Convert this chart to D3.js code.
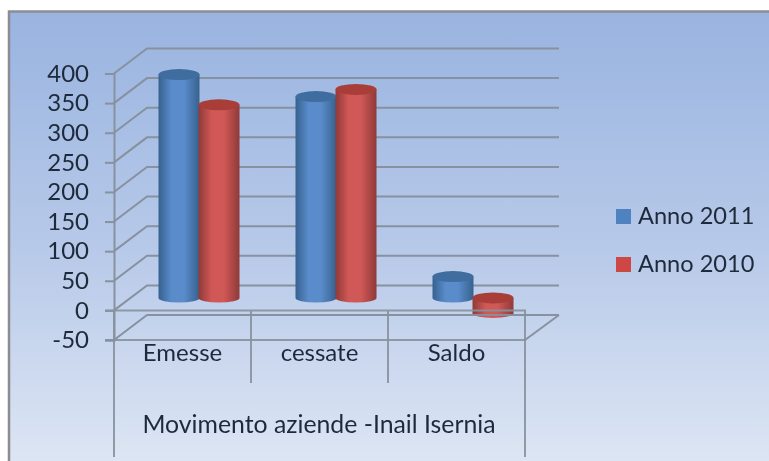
<!DOCTYPE html>
<html><head><meta charset="utf-8">
<script src="https://cdn.jsdelivr.net/npm/d3@7/dist/d3.min.js"></script>
<style>html,body{margin:0;padding:0;background:#fff;overflow:hidden}svg{display:block}text{font-family:Lato,"Open Sans",sans-serif;fill:#1f2a3a}</style>
</head><body><svg id="c" width="769" height="461"></svg>
<script>
const categories = ["Emesse", "cessate", "Saldo"];
const seriesNames = ["Anno 2011", "Anno 2010"];
const anno2011 = [377, 340, 36];
const anno2010 = [326, 352, -26];
const yTicks = [-50, 0, 50, 100, 150, 200, 250, 300, 350, 400];
const groupTitle = "Movimento aziende -Inail Isernia";
const seriesValues = [anno2011, anno2010];
const seriesColors = [
  {id:"b", edge:"#36618f", mid:"#5a8ccb", top:"#3f6d9f", legend:"#5083c0"},
  {id:"r", edge:"#8f3a38", mid:"#d05856", top:"#a93d39", legend:"#cd4744"}
];

const svg = d3.select("#c");
const defs = svg.append("defs");
const bg = defs.append("linearGradient").attr("id","bg").attr("x1",0).attr("x2",0).attr("y1",0).attr("y2",1);
[[0,"#99b4e0"],[0.5,"#b7c9e9"],[1,"#e0e8f4"]].forEach(s=>bg.append("stop").attr("offset",s[0]).attr("stop-color",s[1]));
seriesColors.forEach(c=>{
  const g = defs.append("linearGradient").attr("id","cyl"+c.id);
  [[0,c.edge],[0.32,c.mid],[0.62,c.mid],[1,c.edge]].forEach(s=>g.append("stop").attr("offset",s[0]).attr("stop-color",s[1]));
});
defs.append("filter").attr("id","soft").append("feGaussianBlur").attr("stdDeviation",0.5);

svg.append("rect").attr("x",0).attr("y",0).attr("width",769).attr("height",461).attr("fill","#fff");
svg.append("rect").attr("x",9).attr("y",11.5).attr("width",780).attr("height",470)
  .attr("fill","url(#bg)").attr("stroke","#8b8d92").attr("stroke-width",2.5);

const root = svg.append("g").attr("filter","url(#soft)");
const dx = 33, dy = -25;               // depth of the 3-D box
const left = 114, right = 525;
const y = d3.scaleLinear().domain([-50,400]).range([340,73.5]);
const x0 = d3.scaleBand().domain(categories).range([left,right]);
const x1 = d3.scaleBand().domain(d3.range(seriesNames.length)).range([0,80]);
const grid = "#87919f";

// Back wall gridlines and side wall diagonals
const gl = root.append("g").attr("stroke",grid).attr("stroke-width",2).attr("fill","none");
yTicks.forEach(t=>{
  gl.append("path").attr("d",d3.line()([[left,y(t)],[left+dx,y(t)+dy],[right+dx+1,y(t)+dy]]));
});
gl.append("line").attr("x1",right).attr("y1",y(-50)).attr("x2",right+dx+1).attr("y2",y(-50)+dy);

// Y axis
const yAxis = d3.axisLeft(y).tickValues(yTicks).tickSize(9).tickPadding(16).tickFormat(String);
const ya = root.append("g").attr("transform",`translate(${left},0)`).call(yAxis);
ya.select(".domain").attr("stroke",grid).attr("stroke-width",2);
ya.selectAll(".tick line").attr("stroke",grid).attr("stroke-width",2);
ya.selectAll(".tick text").attr("font-size",24).attr("fill","#1f2a3a").style("font-family",'Lato,sans-serif');

// Cylinders
const ry = 5.5, rw = x1.bandwidth()/2;
function cyl(g, cx, v, c){
  const ytop = y(Math.max(v,0))+dy/2, ybot = y(Math.min(v,0))+dy/2;
  const xl = cx-rw-0.5, xr = cx+rw+0.5;
  g.append("path").attr("fill",`url(#cyl${c.id})`)
    .attr("d",`M${xl},${ytop}L${xl},${ybot}A${rw},${ry-1} 0 0 0 ${xr},${ybot}L${xr},${ytop}Z`);
  g.append("ellipse").attr("cx",cx).attr("cy",ytop).attr("rx",rw+0.5).attr("ry",ry).attr("fill",c.top);
}
seriesValues.forEach((vals,si)=>{
  const g = root.append("g").attr("class","series");
  vals.forEach((v,i)=>{
    const cx = x0(categories[i]) + x0.bandwidth()/2 + dx/2 - x1.bandwidth() + x1(si) + x1.bandwidth()/2;
    cyl(g,cx,v,seriesColors[si]);
  });
});

// Floor lines and category dividers, drawn over the bars
const fl = root.append("g").attr("stroke",grid).attr("stroke-width",2).attr("fill","none").attr("stroke-opacity",0.9);
fl.append("line").attr("x1",left-9).attr("x2",right+1).attr("y1",y(0)).attr("y2",y(0));
fl.append("line").attr("x1",left+dx).attr("x2",right+dx+1).attr("y1",y(-50)+dy).attr("y2",y(-50)+dy);
fl.append("line").attr("x1",left-9).attr("x2",right+1).attr("y1",y(-50)).attr("y2",y(-50));
x0.domain().slice(1).forEach(c=>{
  fl.append("line").attr("x1",x0(c)).attr("x2",x0(c)).attr("y1",y(0)).attr("y2",383);
});
fl.append("line").attr("x1",left).attr("x2",left).attr("y1",y(0)).attr("y2",457);
fl.append("line").attr("x1",right).attr("x2",right).attr("y1",y(0)).attr("y2",457);

// Category labels
root.append("g").selectAll("text").data(categories).join("text")
  .attr("x",(d,i)=>x0(d)+x0.bandwidth()/2).attr("y",361).attr("text-anchor","middle")
  .attr("font-size",24).text(d=>d);
root.append("text").attr("x",319).attr("y",433).attr("text-anchor","middle").attr("font-size",24.8).text(groupTitle);

// Legend
const lg = root.append("g").selectAll("g").data(seriesNames).join("g")
  .attr("transform",(d,i)=>`translate(616,${209+i*48})`);
lg.append("rect").attr("width",15).attr("height",15).attr("fill",(d,i)=>seriesColors[i].legend);
lg.append("text").attr("x",22).attr("y",15).attr("font-size",23.6).text(d=>d);
</script></body></html>
